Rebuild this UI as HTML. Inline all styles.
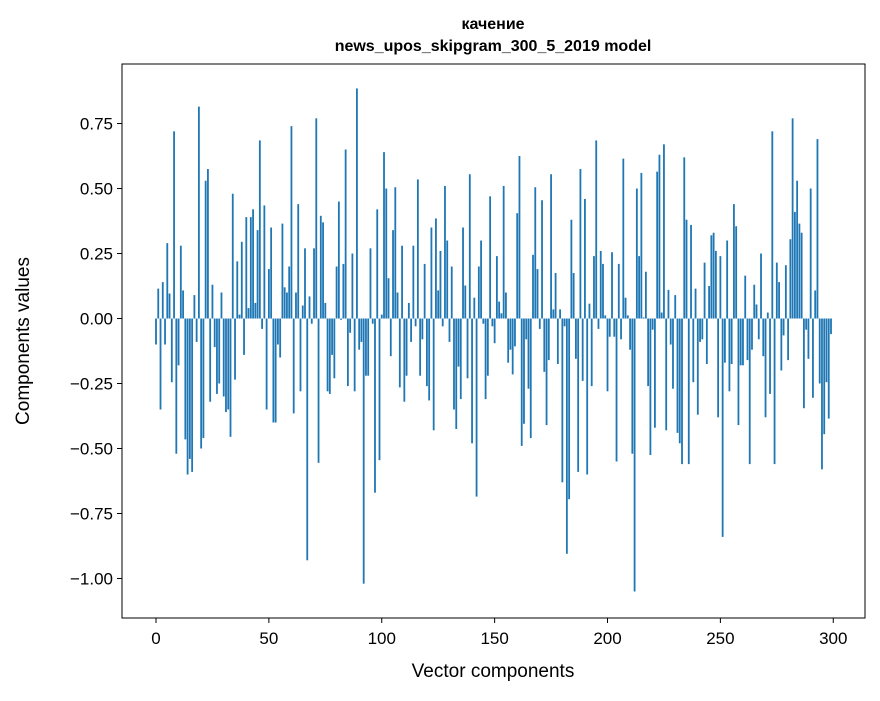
<!DOCTYPE html>
<html><head><meta charset="utf-8"><style>
body{margin:0;background:#fff;}
svg text{font-family:"Liberation Sans","DejaVu Sans",sans-serif;fill:#000;}
</style></head><body>
<svg id="chart" width="880" height="696" viewBox="0 0 880 696" xmlns="http://www.w3.org/2000/svg">
<text x="493" y="29" text-anchor="middle" font-size="16" font-weight="bold">качение</text>
<text x="493" y="51" text-anchor="middle" font-size="16" font-weight="bold">news_upos_skipgram_300_5_2019 model</text>
<g id="bars"></g>
<rect x="122" y="64" width="743" height="554" fill="none" stroke="#000" stroke-width="1"/>
<g id="xticks"></g>
<g id="yticks"></g>
<text x="493" y="677" text-anchor="middle" font-size="19">Vector components</text>
<text transform="translate(29,341) rotate(-90)" text-anchor="middle" font-size="19">Components values</text>
</svg>
<script>
const values = [-0.10,0.115,-0.35,0.14,-0.10,0.29,0.096,-0.245,0.72,-0.52,-0.18,0.28,0.108,-0.465,-0.60,-0.54,-0.59,0.09,-0.09,0.815,
-0.50,-0.46,0.53,0.575,-0.32,0.13,-0.11,-0.29,-0.25,0.10,-0.30,-0.36,-0.35,-0.455,0.48,-0.235,0.22,0.015,0.295,-0.14,
0.39,0.04,0.39,0.42,0.06,0.34,0.685,-0.04,0.435,-0.35,0.19,0.35,-0.40,-0.40,-0.10,-0.15,0.365,0.12,0.10,0.20,
0.74,-0.365,0.10,0.44,-0.28,0.05,0.27,-0.93,0.085,-0.02,0.27,0.77,-0.555,0.395,0.37,0.06,-0.28,-0.29,-0.14,-0.23,
0.20,0.45,-0.005,0.21,0.65,-0.26,-0.055,0.25,-0.28,0.885,-0.12,-0.09,-1.02,-0.22,-0.22,0.27,-0.02,-0.67,0.42,-0.545,
0.015,0.64,0.50,0.155,-0.145,0.34,0.505,0.10,-0.265,0.28,-0.32,-0.22,0.06,-0.09,0.28,-0.03,0.535,-0.22,-0.08,0.21,
-0.26,-0.315,0.35,-0.43,0.385,0.108,0.26,-0.03,0.51,0.30,-0.09,0.20,-0.35,-0.425,-0.185,-0.31,0.35,0.127,-0.23,0.555,
-0.48,0.08,-0.685,0.20,0.30,-0.02,-0.31,-0.22,0.47,-0.03,-0.095,0.24,0.065,0.02,0.51,0.10,-0.17,-0.12,-0.215,-0.107,
0.405,0.625,-0.49,-0.405,-0.08,-0.27,-0.46,0.245,0.505,0.19,-0.04,0.455,-0.205,-0.41,-0.16,0.555,0.035,0.175,-0.175,0.035,
-0.63,-0.03,-0.905,-0.695,0.38,0.175,-0.155,-0.59,0.575,-0.24,0.46,-0.60,0.057,-0.26,0.24,0.685,-0.04,0.26,0.21,0.012,
-0.28,-0.07,0.255,-0.07,-0.55,0.21,-0.08,0.615,0.08,0.012,-0.12,-0.52,-1.05,0.50,0.24,0.56,0.004,0.18,-0.26,-0.525,
-0.043,-0.42,0.565,0.63,0.023,0.67,-0.43,0.11,-0.10,-0.27,0.09,-0.44,-0.48,-0.56,0.62,0.38,-0.56,0.36,-0.245,0.115,
-0.37,-0.09,-0.08,0.215,-0.175,0.125,0.32,0.33,0.26,-0.38,0.24,-0.84,-0.17,0.30,-0.28,-0.175,0.44,0.355,-0.41,-0.18,
-0.18,0.165,-0.16,-0.56,-0.12,0.13,0.054,-0.08,0.25,-0.145,-0.38,0.023,-0.29,0.72,-0.56,0.215,0.14,-0.20,-0.065,0.205,
-0.16,0.305,0.77,0.41,0.53,0.365,0.33,-0.345,-0.043,-0.155,0.50,-0.305,0.108,0.69,-0.25,-0.58,-0.445,-0.245,-0.385,-0.06];
const xTicks = [0,50,100,150,200,250,300];
const yTicks = [-1.00,-0.75,-0.50,-0.25,0.00,0.25,0.50,0.75];
const yTickLabels = ["\u22121.00","\u22120.75","\u22120.50","\u22120.25","0.00","0.25","0.50","0.75"];

const NS="http://www.w3.org/2000/svg";
const X0=122,X1=865,Y0=64,Y1=618;
const xmin=-15.06,xmax=314.06,ymin=-1.152,ymax=0.979;
const xs=v=>X0+(v-xmin)/(xmax-xmin)*(X1-X0);
const ys=v=>Y1-(v-ymin)/(ymax-ymin)*(Y1-Y0);
const bars=document.getElementById('bars');
values.forEach((v,i)=>{
  const r=document.createElementNS(NS,'rect');
  const a=xs(i-0.4),b=xs(i+0.4);
  const y0=ys(0),y1=ys(v);
  r.setAttribute('x',a);r.setAttribute('width',b-a);
  r.setAttribute('y',Math.min(y0,y1));r.setAttribute('height',Math.abs(y1-y0));
  r.setAttribute('fill','#1f77b4');
  
  
  bars.appendChild(r);
});
const xt=document.getElementById('xticks');
xTicks.forEach(t=>{
  const x=xs(t);
  const l=document.createElementNS(NS,'line');
  l.setAttribute('x1',x);l.setAttribute('x2',x);l.setAttribute('y1',Y1);l.setAttribute('y2',Y1+5);
  l.setAttribute('stroke','#000');
  
  
  xt.appendChild(l);
  const tx=document.createElementNS(NS,'text');
  tx.setAttribute('x',x);tx.setAttribute('y',Y1+26);tx.setAttribute('text-anchor','middle');tx.setAttribute('font-size','17');
  tx.textContent=t;
  
  
  xt.appendChild(tx);
});
const yt=document.getElementById('yticks');
yTicks.forEach((t,k)=>{
  const y=ys(t);
  const l=document.createElementNS(NS,'line');
  l.setAttribute('x1',X0-5);l.setAttribute('x2',X0);l.setAttribute('y1',y);l.setAttribute('y2',y);
  l.setAttribute('stroke','#000');
  
  
  yt.appendChild(l);
  const tx=document.createElementNS(NS,'text');
  tx.setAttribute('x',X0-9);tx.setAttribute('y',y+6);tx.setAttribute('text-anchor','end');tx.setAttribute('font-size','17');
  tx.textContent=yTickLabels[k];
  
  
  yt.appendChild(tx);
});
</script>
</body></html>
